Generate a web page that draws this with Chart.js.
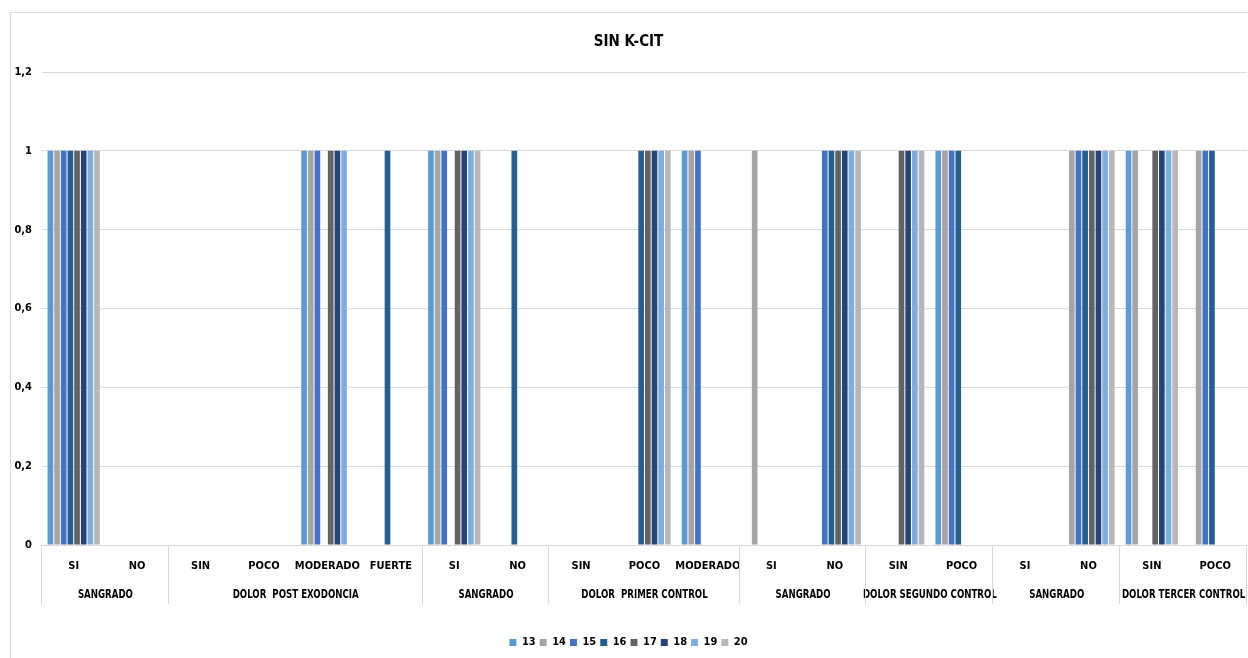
<!DOCTYPE html>
<html>
<head>
<meta charset="utf-8">
<script src="https://cdn.jsdelivr.net/npm/chart.js@4.4.0/dist/chart.umd.min.js"></script>
<style>
    html, body { margin: 0; padding: 0; background: #fff; }
</style>
</head>
<body>
<canvas id="myChart" width="1248" height="658"></canvas>
<script>
const categories = ['SI', 'NO', 'SIN', 'POCO', 'MODERADO', 'FUERTE', 'SI', 'NO', 'SIN', 'POCO', 'MODERADO',
    'SI', 'NO', 'SIN', 'POCO', 'SI', 'NO', 'SIN', 'POCO'];
const groupNames = ['SANGRADO', 'DOLOR  POST EXODONCIA', 'SANGRADO', 'DOLOR  PRIMER CONTROL', 'SANGRADO',
    'DOLOR SEGUNDO CONTROL', 'SANGRADO', 'DOLOR TERCER CONTROL'];
const groupSizes = [2, 4, 2, 3, 2, 2, 2, 2];
const yTickLabels = ['0', '0,2', '0,4', '0,6', '0,8', '1', '1,2'];

const seriesNames = ['13', '14', '15', '16', '17', '18', '19', '20'];
const s13 = [1, 0, 0, 0, 1, 0, 1, 0, 0, 0, 1, 0, 0, 0, 1, 0, 0, 1, 0];
const s14 = [1, 0, 0, 0, 1, 0, 1, 0, 0, 0, 1, 1, 0, 0, 1, 0, 1, 1, 1];
const s15 = [1, 0, 0, 0, 1, 0, 1, 0, 0, 0, 1, 0, 1, 0, 1, 0, 1, 0, 1];
const s16 = [1, 0, 0, 0, 0, 1, 0, 1, 0, 1, 0, 0, 1, 0, 1, 0, 1, 0, 1];
const s17 = [1, 0, 0, 0, 1, 0, 1, 0, 0, 1, 0, 0, 1, 1, 0, 0, 1, 1, 0];
const s18 = [1, 0, 0, 0, 1, 0, 1, 0, 0, 1, 0, 0, 1, 1, 0, 0, 1, 1, 0];
const s19 = [1, 0, 0, 0, 1, 0, 1, 0, 0, 1, 0, 0, 1, 1, 0, 0, 1, 1, 0];
const s20 = [1, 0, 0, 0, 0, 0, 1, 0, 0, 1, 0, 0, 1, 1, 0, 0, 1, 1, 0];
const seriesValues = [s13, s14, s15, s16, s17, s18, s19, s20];
const seriesColors = ['#5b9bd5', '#a5a5a5', '#4472c4', '#255e91', '#636363', '#264478', '#7cafdd', '#b7b7b7'];

const FONT = '"Liberation Sans Narrow", "DejaVu Sans Condensed", "Liberation Sans", sans-serif';

// outer frame + group row under the axis
const frameAndGroups = {
    id: 'frameAndGroups',
    beforeDraw(chart) {
        const ctx = chart.ctx;
        ctx.save();
        ctx.fillStyle = '#fff';
        ctx.fillRect(0, 0, chart.width, chart.height);
        ctx.strokeStyle = '#d9d9d9';
        ctx.lineWidth = 1;
        ctx.strokeRect(10.5, 12.5, 1300, 700);
        ctx.restore();
    },
    afterDraw(chart) {
        const ctx = chart.ctx;
        const x = chart.scales.x;
        const step = (x.right - x.left) / categories.length;
        const top = chart.chartArea.bottom;
        ctx.save();
        ctx.strokeStyle = '#d9d9d9';
        ctx.lineWidth = 1;
        ctx.fillStyle = '#000';
        ctx.font = 'bold 12px ' + FONT;
        ctx.textAlign = 'center';
        ctx.textBaseline = 'middle';
        let start = 0;
        const edges = [0];
        groupSizes.forEach(function (n, i) {
            const left = x.left + start * step;
            const right = x.left + (start + n) * step;
            const w = ctx.measureText(groupNames[i]).width * 0.8;
            ctx.fillText(groupNames[i], (left + right) / 2, top + 49.5, w);
            start += n;
            edges.push(start);
        });
        edges.forEach(function (e) {
            const px = Math.round(x.left + e * step) - 0.5;
            ctx.beginPath();
            ctx.moveTo(px, top);
            ctx.lineTo(px, top + 59);
            ctx.stroke();
        });
        ctx.restore();
    }
};

const ctx = document.getElementById('myChart');

new Chart(ctx, {
    type: 'bar',
    data: {
        labels: categories,
        datasets: seriesNames.map(function (name, i) {
            return {
                label: name,
                data: seriesValues[i],
                backgroundColor: seriesColors[i],
                borderWidth: 0,
                categoryPercentage: 0.84,
                barPercentage: 0.85
            };
        })
    },
    options: {
        responsive: false,
        animation: false,
        devicePixelRatio: 1,
        layout: { padding: { left: 10, right: 1, top: 0, bottom: 0 } },
        plugins: {
            title: {
                display: true,
                text: 'SIN K-CIT',
                color: '#000',
                font: { family: FONT, size: 15, weight: 'bold' },
                padding: { top: 33, bottom: 21 }
            },
            legend: {
                position: 'bottom',
                labels: {
                    boxWidth: 7,
                    boxHeight: 7,
                    padding: 4,
                    color: '#000',
                    font: { family: FONT, size: 11, weight: 'bold' }
                }
            },
            tooltip: { enabled: false }
        },
        scales: {
            x: {
                grid: { display: false, drawTicks: false },
                border: { display: false },
                ticks: {
                    autoSkip: false,
                    maxRotation: 0,
                    padding: 15,
                    color: '#000',
                    font: { family: FONT, size: 11, weight: 'bold' }
                },
                afterFit: function (scale) { scale.height = 88; }
            },
            y: {
                min: 0,
                max: 1.2,
                grid: { color: '#d9d9d9', drawTicks: false },
                border: { display: false },
                ticks: {
                    stepSize: 0.2,
                    padding: 10,
                    color: '#000',
                    font: { family: FONT, size: 11, weight: 'bold' },
                    callback: function (value, index) { return yTickLabels[index]; }
                },
                afterFit: function (scale) { scale.width = 32; }
            }
        }
    },
    plugins: [frameAndGroups]
});
</script>
</body>
</html>
